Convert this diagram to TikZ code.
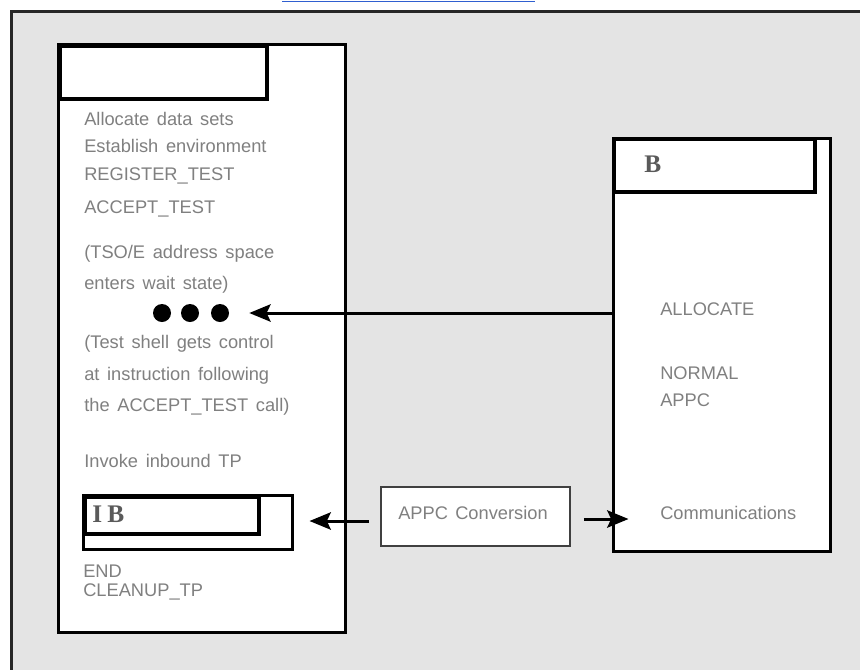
\documentclass[tikz,border=0pt]{standalone}
\usepackage{fontspec}
\setmainfont{Liberation Sans}
\newfontfamily\ibmfont{Liberation Serif}
\usetikzlibrary{arrows.meta,fit,calc}
\definecolor{bggray}{HTML}{E4E4E4}
\definecolor{txtgray}{HTML}{808080}
\definecolor{logogray}{HTML}{5A5A5A}
\definecolor{linkblue}{HTML}{2F5FD0}
\newcommand\widewords{\spaceskip=0.42em plus 0.1em\relax}
\begin{document}
\begin{tikzpicture}[x=0.75pt,y=-0.75pt,
  box/.style={draw=black, fill=white, line width=2.25pt, inner sep=0pt},
  hdr/.style={draw=black, line width=3pt, inner sep=0pt},
  thinbox/.style={draw=black!75, fill=white, line width=1.2pt, inner sep=0pt},
  txt/.style={anchor=base west, inner sep=0pt, text=txtgray, font=\fontsize{13.7}{16}\selectfont\widewords},
  logo/.style={anchor=base west, inner sep=0pt, text=logogray, font=\ibmfont\bfseries\fontsize{19}{21}\selectfont},
  dot/.style={circle, fill=black, inner sep=0pt, minimum size=13.5pt},
  arr/.style={line width=2.25pt, -{Stealth[length=16pt,width=13pt,inset=3pt]}},
]
\useasboundingbox (0,0) rectangle (860,669);
\clip (0,0) rectangle (860,669);
\draw[fill=bggray, draw=black!85, line width=2.25pt] (11,11) rectangle (880,690);
\draw[draw=linkblue, line width=1pt] (282,1.5) -- (535,1.5);

% left box
\node[box, fit={(58,44) (345,632)}] (lbox) {};
\node[hdr, fit={(60,46) (267,99)}] (lhdr) {};
\node[txt] (l1) at (84,125) {Allocate data sets};
\node[txt] (l2) at (84,152) {Establish environment};
\node[txt] (l3) at (84,180) {REGISTER\_TEST};
\node[txt] (l4) at (84,213) {ACCEPT\_TEST};
\node[txt] (l5) at (84,258) {(TSO/E address space};
\node[txt] (l6) at (84,289) {enters wait state)};
\node[dot] (d1) at (162,313) {};
\node[dot] (d2) at (190,313) {};
\node[dot] (d3) at (220,313) {};
\node[txt] (l7) at (84,348) {(Test shell gets control};
\node[txt] (l8) at (84,380) {at instruction following};
\node[txt] (l9) at (84,411) {the ACCEPT\_TEST call)};
\node[txt] (l10) at (84,467) {Invoke inbound TP};
\node[box, fit={(83,495) (292,549)}] (ib) {};
\node[hdr, line width=2.6pt, fit={(85,497) (259,534)}] (ibhdr) {};
\node[logo] (ibtext) at (92,522) {I\kern4pt B};
\node[txt] (l11) at (83,577) {END};
\node[txt] (l12) at (83,596) {CLEANUP\_TP};

% right box
\node[box, fit={(613,138) (830,551)}] (rbox) {};
\node[hdr, fit={(614,139) (815,192)}] (rhdr) {};
\node[logo] (rb) at (644,172) {B};
\node[txt] (r1) at (660,315) {ALLOCATE};
\node[txt] (r2) at (660,379) {NORMAL};
\node[txt] (r3) at (660,406) {APPC};
\node[txt] (r4) at (660,519) {Communications};

% conversion box
\node[thinbox, fit={(381,487) (570,546)}] (conv) {};
\node[txt] (ct) at (398,519) {APPC\hspace{0.4em}Conversion};

% connectors
\draw[arr] (rbox.west |- d3) -- ($(d3.east)+(20,0)$);
\draw[arr] ($(conv.west)+(-11,4.5)$) -- ($(ib.east |- conv.west)+(16,4.5)$);
\draw[arr] ($(conv.east)+(13,2.5)$) -- ($(rbox.west |- conv.east)+(17,2.5)$);
\end{tikzpicture}
\end{document}
